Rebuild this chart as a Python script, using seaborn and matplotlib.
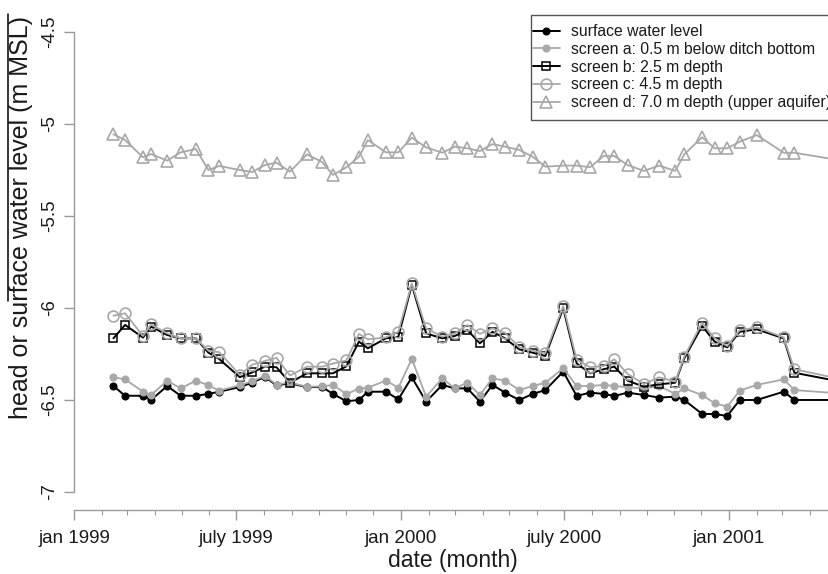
import numpy as np
import pandas as pd
import matplotlib
matplotlib.use("Agg")
import matplotlib.pyplot as plt
import matplotlib.dates as mdates
from matplotlib.lines import Line2D
from matplotlib.patches import Rectangle
import seaborn as sns

# ---------------- data ----------------
dates = ['1999-02-14', '1999-02-27', '1999-03-19', '1999-03-28', '1999-04-15', '1999-04-30',
         '1999-05-17', '1999-05-31', '1999-06-12', '1999-07-05', '1999-07-19', '1999-08-02',
         '1999-08-15', '1999-08-30', '1999-09-18', '1999-10-05', '1999-10-17', '1999-11-01',
         '1999-11-15', '1999-11-25', '1999-12-15', '1999-12-29', '2000-01-13', '2000-01-29',
         '2000-02-16', '2000-03-01', '2000-03-15', '2000-03-29', '2000-04-12', '2000-04-26',
         '2000-05-12', '2000-05-27', '2000-06-10', '2000-06-30', '2000-07-15', '2000-07-30',
         '2000-08-14', '2000-08-26', '2000-09-10', '2000-09-28', '2000-10-15', '2000-11-02',
         '2000-11-12', '2000-12-02', '2000-12-16', '2000-12-30', '2001-01-13', '2001-02-01',
         '2001-03-03', '2001-03-15', '2001-05-17']

surface_water = [-6.424, -6.477, -6.477, -6.500, -6.424, -6.477, -6.477, -6.467, -6.455, -6.430,
                 -6.405, -6.375, -6.420, -6.410, -6.430, -6.430, -6.467, -6.507, -6.500, -6.455,
                 -6.455, -6.496, -6.377, -6.509, -6.418, -6.437, -6.437, -6.509, -6.418, -6.460,
                 -6.500, -6.467, -6.446, -6.346, -6.478, -6.460, -6.467, -6.478, -6.460, -6.473,
                 -6.487, -6.482, -6.500, -6.576, -6.576, -6.587, -6.500, -6.500, -6.455, -6.500,
                 -6.500]

screen_a = [-6.377, -6.388, -6.455, -6.473, -6.395, -6.437, -6.395, -6.420, -6.449, -6.420,
            -6.398, -6.369, -6.416, -6.405, -6.428, -6.426, -6.418, -6.468, -6.438, -6.433,
            -6.395, -6.433, -6.277, -6.482, -6.382, -6.437, -6.406, -6.473, -6.382, -6.395,
            -6.446, -6.424, -6.406, -6.328, -6.424, -6.424, -6.418, -6.424, -6.431, -6.437,
            -6.424, -6.467, -6.437, -6.473, -6.518, -6.536, -6.449, -6.418, -6.388, -6.446,
            -6.469]

screen_b = [-6.165, -6.092, -6.161, -6.101, -6.147, -6.165, -6.165, -6.243, -6.277, -6.376,
            -6.350, -6.319, -6.322, -6.406, -6.355, -6.355, -6.355, -6.317, -6.183, -6.219,
            -6.165, -6.156, -5.875, -6.138, -6.165, -6.152, -6.120, -6.192, -6.129, -6.165,
            -6.225, -6.243, -6.261, -6.002, -6.301, -6.355, -6.333, -6.319, -6.395, -6.428,
            -6.415, -6.406, -6.274, -6.098, -6.183, -6.214, -6.129, -6.116, -6.165, -6.352,
            -6.411]

screen_c = [-6.042, -6.029, -6.152, -6.089, -6.138, -6.165, -6.165, -6.232, -6.240, -6.364,
            -6.308, -6.288, -6.271, -6.367, -6.319, -6.319, -6.302, -6.285, -6.141, -6.170,
            -6.160, -6.129, -5.866, -6.111, -6.156, -6.138, -6.092, -6.141, -6.111, -6.134,
            -6.214, -6.232, -6.246, -5.989, -6.281, -6.322, -6.315, -6.279, -6.359, -6.413,
            -6.377, -6.400, -6.265, -6.080, -6.165, -6.207, -6.120, -6.105, -6.160, -6.333,
            -6.398]

screen_d = [-5.056, -5.087, -5.181, -5.163, -5.199, -5.154, -5.136, -5.250, -5.228, -5.250,
            -5.261, -5.223, -5.210, -5.259, -5.165, -5.207, -5.277, -5.235, -5.178, -5.087,
            -5.154, -5.154, -5.074, -5.127, -5.156, -5.123, -5.132, -5.147, -5.109, -5.123,
            -5.141, -5.178, -5.232, -5.226, -5.226, -5.235, -5.174, -5.174, -5.223, -5.255,
            -5.226, -5.255, -5.165, -5.072, -5.132, -5.132, -5.096, -5.060, -5.156, -5.156,
            -5.207]

labels = ['surface water level', 'screen a: 0.5 m below ditch bottom', 'screen b: 2.5 m depth',
          'screen c: 4.5 m depth', 'screen d: 7.0 m depth (upper aquifer)']

y_ticks = [-7, -6.5, -6, -5.5, -5, -4.5]
y_ticklabels = ['-7', '-6.5', '-6', '-5.5', '-5', '-4.5']
x_ticks = ['1999-01-01', '1999-07-01', '2000-01-01', '2000-07-01', '2001-01-01']
x_ticklabels = ['jan 1999', 'july 1999', 'jan 2000', 'july 2000', 'jan 2001']

# ---------------- style ----------------
sns.set_theme(style="white")
plt.rcParams['font.family'] = ['Liberation Sans', 'DejaVu Sans']

W, H = 829, 574
fig = plt.figure(figsize=(W / 100, H / 100), dpi=100)
fig.patch.set_facecolor('white')
ax = fig.add_axes([74 / W, (H - 510) / H, (W - 74) / W, (510 - 14) / H])
ax.set_facecolor('white')

GRAY = '#a8a8a8'
AXC = '#9a9a9a'
TXT = '#1a1a1a'
styles = [
    dict(color='black', marker='o', markersize=5, markerfacecolor='black',
         markeredgecolor='black', markeredgewidth=0.8, linewidth=1.4),
    dict(color=GRAY, marker='o', markersize=5, markerfacecolor=GRAY,
         markeredgecolor=GRAY, markeredgewidth=0.8, linewidth=1.3),
    dict(color='black', marker='s', markersize=6.3, markerfacecolor='none',
         markeredgecolor='black', markeredgewidth=1.1, linewidth=1.4),
    dict(color=GRAY, marker='o', markersize=7.8, markerfacecolor='none',
         markeredgecolor=GRAY, markeredgewidth=1.2, linewidth=1.3),
    dict(color=GRAY, marker='^', markersize=8.2, markerfacecolor='none',
         markeredgecolor=GRAY, markeredgewidth=1.2, linewidth=1.3),
]
series = [surface_water, screen_a, screen_b, screen_c, screen_d]

dt = pd.to_datetime(dates)
for vals, lab, st in zip(series, labels, styles):
    df = pd.DataFrame({'date': dt, 'level': vals})
    sns.lineplot(data=df, x='date', y='level', ax=ax, label=lab, legend=False, **st)

x0 = pd.Timestamp('1999-01-01')
x1 = x0 + pd.Timedelta(days=842.6)
ax.set_xlim(x0, x1)
ax.set_ylim(-7.098, -4.402)

for s in ['top', 'right']:
    ax.spines[s].set_visible(False)
ax.spines['left'].set_bounds(-7, -4.5)
ax.spines['left'].set_color(AXC)
ax.spines['left'].set_linewidth(1.0)
ax.spines['bottom'].set_bounds(mdates.date2num(x0), mdates.date2num(x1))
ax.spines['bottom'].set_color(AXC)
ax.spines['bottom'].set_linewidth(1.0)

ax.set_yticks(y_ticks)
ax.set_yticklabels(y_ticklabels, rotation=90, va='center')
ax.set_xticks(mdates.date2num(pd.to_datetime(x_ticks)))
ax.set_xticklabels(x_ticklabels)
ax.xaxis.set_minor_locator(mdates.MonthLocator())
ax.tick_params(axis='y', which='major', left=True, length=7.2, width=1, color=AXC,
               labelsize=13.5, pad=4, labelcolor=TXT)
ax.tick_params(axis='x', which='major', bottom=True, length=7.2, width=1, color=AXC,
               labelsize=13.5, pad=7.5, labelcolor=TXT)
ax.tick_params(axis='x', which='minor', bottom=True, length=3.6, width=0.8, color=AXC)
ax.set_xlabel('')
ax.set_ylabel('')
ax.grid(False)

fig.text(453 / W, 1 - 561 / H, 'date (month)', ha='center', va='center',
         fontsize=16.5, color=TXT)
ylab_txt = 'head or surface water level (m MSL)'
over_txt = 'rface water level (m MSL)'
YLFS = 18
yl = fig.text(21 / W, 1 - 16 / H, ylab_txt, ha='center', va='top', rotation=90,
              fontsize=YLFS, color=TXT)

# legend box drawn inside the axes (clip off) so the legend sits above it
ax.add_patch(Rectangle((531 / W, 1 - 120 / H), 320 / W, (120 - 15) / H,
                       transform=fig.transFigure, facecolor='white',
                       edgecolor='#555555', linewidth=1.0, zorder=4, clip_on=False))
leg = ax.legend(loc='upper left', bbox_to_anchor=(533 / W, 1 - 24 / H),
                bbox_transform=fig.transFigure, borderaxespad=0, frameon=False,
                fontsize=11.3, handlelength=1.7, handletextpad=0.7,
                labelspacing=0.18, borderpad=0, numpoints=1)
leg.set_zorder(6)
for t in leg.get_texts():
    t.set_color(TXT)

# overline above part of the y label
fig.canvas.draw()
r = fig.canvas.get_renderer()
bb = yl.get_window_extent(r)
tmp = fig.text(0, 0, over_txt, rotation=90, fontsize=YLFS)
tb = tmp.get_window_extent(r)
tmp.remove()
top = bb.y1 + 2
bot = bb.y1 - tb.height
xl = bb.x0 - 1
fig.add_artist(Line2D([xl / W, xl / W], [bot / H, top / H], transform=fig.transFigure,
                      color='black', linewidth=1.1))

fig.savefig('out.png', dpi=100)
